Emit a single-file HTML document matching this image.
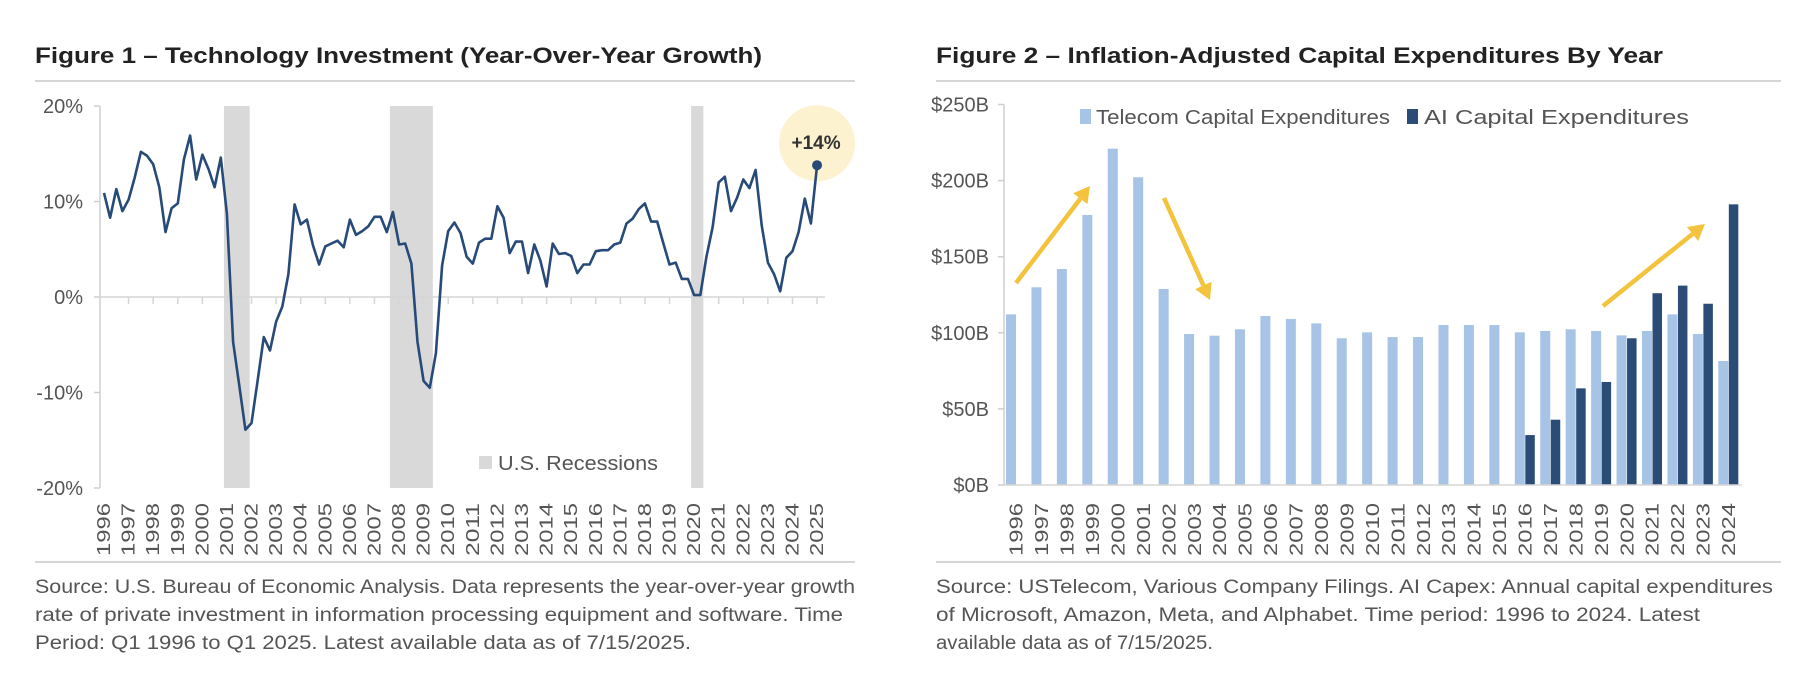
<!DOCTYPE html>
<html><head><meta charset="utf-8">
<style>
html,body{margin:0;padding:0;background:#fff;}
svg{display:block;font-family:"Liberation Sans",Arial,sans-serif;}
</style></head>
<body>
<svg id="root" width="1798" height="696" viewBox="0 0 1798 696" xmlns="http://www.w3.org/2000/svg">
  <g>
    <text x="35" y="63" font-size="22" font-weight="bold" fill="#222" textLength="727" lengthAdjust="spacingAndGlyphs">Figure 1 – Technology Investment (Year-Over-Year Growth)</text>
    <line x1="35" y1="81" x2="855" y2="81" stroke="#c8c8c8" stroke-width="1.5"/>
    <g id="c1"></g>
    <line x1="35" y1="562" x2="855" y2="562" stroke="#c8c8c8" stroke-width="1.5"/>
    <text font-size="19" fill="#555" lengthAdjust="spacingAndGlyphs">
      <tspan x="35" y="593" textLength="820" lengthAdjust="spacingAndGlyphs">Source: U.S. Bureau of Economic Analysis. Data represents the year-over-year growth</tspan>
      <tspan x="35" y="621" textLength="808" lengthAdjust="spacingAndGlyphs">rate of private investment in information processing equipment and software. Time</tspan>
      <tspan x="35" y="649" textLength="656" lengthAdjust="spacingAndGlyphs">Period: Q1 1996 to Q1 2025. Latest available data as of 7/15/2025.</tspan>
    </text>
  </g>
  <g>
    <text x="936" y="63" font-size="22" font-weight="bold" fill="#222" textLength="727" lengthAdjust="spacingAndGlyphs">Figure 2 – Inflation-Adjusted Capital Expenditures By Year</text>
    <line x1="936" y1="81" x2="1781" y2="81" stroke="#c8c8c8" stroke-width="1.5"/>
    <g id="c2"></g>
    <line x1="936" y1="562" x2="1781" y2="562" stroke="#c8c8c8" stroke-width="1.5"/>
    <text font-size="19" fill="#555">
      <tspan x="936" y="593" textLength="837" lengthAdjust="spacingAndGlyphs">Source: USTelecom, Various Company Filings. AI Capex: Annual capital expenditures</tspan>
      <tspan x="936" y="621" textLength="764" lengthAdjust="spacingAndGlyphs">of Microsoft, Amazon, Meta, and Alphabet. Time period: 1996 to 2024. Latest</tspan>
      <tspan x="936" y="649" textLength="277" lengthAdjust="spacingAndGlyphs">available data as of 7/15/2025.</tspan>
    </text>
  </g>
</svg>
<script>
// ---------- Figure 1 data ----------
const growthValues = [10.9,8.3,11.3,9.0,10.2,12.5,15.2,14.8,13.9,11.5,6.8,9.3,9.8,14.4,16.9,12.3,14.9,13.4,11.5,14.6,
 8.7,-4.7,-9.2,-13.9,-13.2,-8.7,-4.2,-5.6,-2.6,-1.0,2.4,9.7,7.6,8.1,5.4,3.4,5.3,5.6,5.9,5.2,
 8.1,6.5,6.9,7.4,8.4,8.4,6.8,8.9,5.5,5.6,3.5,-4.7,-8.8,-9.5,-5.9,3.3,6.9,7.8,6.7,4.2,
 3.5,5.7,6.1,6.1,9.5,8.3,4.6,5.8,5.8,2.5,5.5,3.8,1.1,5.6,4.5,4.6,4.3,2.5,3.4,3.4,
 4.8,4.9,4.9,5.5,5.7,7.7,8.2,9.2,9.8,7.9,7.9,5.6,3.4,3.6,1.9,1.9,0.2,0.2,4.2,7.3,
 12.0,12.6,9.0,10.4,12.3,11.4,13.3,7.5,3.6,2.4,0.6,4.1,4.8,6.8,10.3,7.7,13.8];
const growthYears = [];
for (let y = 1996; y <= 2025; y++) growthYears.push(String(y));
const growthTicks = [20,10,0,-10,-20];
const recessionStarts = [20,47,96];
const recessionEnds = [23.7,53.5,97.5];
const calloutLabel = "+14%";

// ---------- Figure 2 data ----------
const capexYears = [];
for (let y = 1996; y <= 2024; y++) capexYears.push(String(y));
const telecomCapex = [112.1,129.9,141.9,177.4,221,202.2,128.8,99.2,98.1,102.3,111,109.1,106.2,96.4,100.3,97.2,97.2,105.1,105.1,105.1,100.3,101.2,102.3,101.2,98.3,101.2,112.1,99.2,81.5];
const aiCapex = [null,null,null,null,null,null,null,null,null,null,null,null,null,null,null,null,null,null,null,null,32.8,42.9,63.5,67.7,96.4,126,131,119.1,184.4];
const capexTicks = [0,50,100,150,200,250];

const NS = "http://www.w3.org/2000/svg";
function mk(tag, attrs, parent, txt){
  const e = document.createElementNS(NS, tag);
  for (const k in attrs) e.setAttribute(k, attrs[k]);
  if (txt !== undefined) e.textContent = txt;
  parent.appendChild(e);
  return e;
}

// ---- Chart 1 ----
(function(){
  const g = document.getElementById('c1');
  const x0 = 104, dx = 6.147;
  const xq = i => x0 + i*dx;
  const y = v => 297 - v*9.55;
  const left = 100, right = 825;
  recessionStarts.forEach((s,k)=>{
    const r = mk('rect',{x:xq(s)-3,y:y(20),width:xq(recessionEnds[k])-xq(s)+3,height:y(-20)-y(20),fill:'#d9d9d9'},g);
    
    
  });
  const ax = mk('line',{x1:left,y1:y(20),x2:left,y2:y(-20),stroke:'#cfcfcf','stroke-width':1.5},g);
  
  
  growthTicks.forEach(t=>{
    const tk = mk('line',{x1:left-6,y1:y(t),x2:left,y2:y(t),stroke:'#cfcfcf','stroke-width':1.5},g);
    
    
    const lb = mk('text',{x:83,y:y(t)+7,'font-size':20,fill:'#555','text-anchor':'end'},g,t+'%');
    
    
  });
  const zl = mk('line',{x1:left,y1:y(0),x2:right,y2:y(0),stroke:'#d6d6d6','stroke-width':1.5},g);
  
  
  growthYears.forEach((yr,k)=>{
    const xx = xq(k*4);
    if (k>0){
      const tk = mk('line',{x1:xx,y1:y(0),x2:xx,y2:y(0)+7,stroke:'#d6d6d6','stroke-width':1.5},g);
      
      
    }
    const lb = mk('text',{x:0,y:0,'font-size':18,fill:'#555','text-anchor':'end',textLength:53,lengthAdjust:'spacingAndGlyphs',transform:`translate(${xx+6},503) rotate(-90)`},g,yr);
    
    
  });
  const lg = mk('rect',{x:479,y:456,width:13,height:13,fill:'#d9d9d9'},g);
  
  
  const lt = mk('text',{x:498,y:470,'font-size':20,fill:'#555',textLength:160,lengthAdjust:'spacingAndGlyphs'},g,'U.S. Recessions');
  
  
  const last = growthValues.length-1;
  const cx = xq(last), cy = y(growthValues[last]);
  const bub = mk('circle',{cx:cx,cy:cy-22,r:38,fill:'#fdf2cf'},g);
  
  
  const pts = growthValues.map((v,i)=>xq(i).toFixed(1)+','+y(v).toFixed(1)).join(' ');
  const pl = mk('polyline',{points:pts,fill:'none',stroke:'#274a78','stroke-width':2.6,'stroke-linejoin':'round'},g);
  
  
  const dot = mk('circle',{cx:cx,cy:cy,r:5,fill:'#274a78'},g);
  
  
  const ct = mk('text',{x:cx-1,y:cy-16,'font-size':19,'font-weight':'bold',fill:'#333','text-anchor':'middle'},g,calloutLabel);
  
  
})();

// ---- Chart 2 ----
(function(){
  const g = document.getElementById('c2');
  const x0 = 1004, cw = 25.44;
  const y = v => 485 - v*1.522;
  const ax = mk('line',{x1:x0,y1:y(250),x2:x0,y2:y(0),stroke:'#cfcfcf','stroke-width':1.5},g);
  
  
  capexTicks.forEach(t=>{
    const tk = mk('line',{x1:x0-6,y1:y(t),x2:x0,y2:y(t),stroke:'#cfcfcf','stroke-width':1.5},g);
    
    
    const lb = mk('text',{x:989,y:y(t)+7,'font-size':20,fill:'#555','text-anchor':'end'},g,'$'+t+'B');
    
    
  });
  capexYears.forEach((yr,k)=>{
    const cs = x0 + k*cw;
    const tv = telecomCapex[k];
    const tb = mk('rect',{x:cs+2,y:y(tv),width:10,height:y(0)-y(tv),fill:'#a7c3e5'},g);
    
    
    const av = aiCapex[k];
    if (av !== null){
      const ab = mk('rect',{x:cs+12.5,y:y(av),width:9.5,height:y(0)-y(av),fill:'#2b4c77'},g);
      
      
    }
    const lb = mk('text',{x:0,y:0,'font-size':18,fill:'#555','text-anchor':'end',textLength:53,lengthAdjust:'spacingAndGlyphs',transform:`translate(${cs+cw/2+6},503) rotate(-90)`},g,yr);
    
    
  });
  const bl = mk('line',{x1:x0,y1:y(0),x2:x0+29*cw,y2:y(0),stroke:'#d6d6d6','stroke-width':1.5},g);
  
  
  const s1 = mk('rect',{x:1080,y:109,width:11,height:15,fill:'#a7c3e5'},g);
  
  
  const t1 = mk('text',{x:1096,y:124,'font-size':20,fill:'#555',textLength:294,lengthAdjust:'spacingAndGlyphs'},g,'Telecom Capital Expenditures');
  
  
  const s2 = mk('rect',{x:1407,y:109,width:11,height:15,fill:'#2b4c77'},g);
  
  
  const t2 = mk('text',{x:1424,y:124,'font-size':20,fill:'#555',textLength:265,lengthAdjust:'spacingAndGlyphs'},g,'AI Capital Expenditures');
  
  
  const arrows = [[1016,283,1090,186],[1164,198,1210,300],[1603,306,1705,224]];
  arrows.forEach((a,k)=>{
    const [x1,y1,x2,y2] = a;
    const ang = Math.atan2(y2-y1,x2-x1);
    const L = 16, W = 9;
    const bx = x2 - L*Math.cos(ang), by = y2 - L*Math.sin(ang);
    const ln = mk('line',{x1:x1,y1:y1,x2:bx,y2:by,stroke:'#f4c33d','stroke-width':4.5},g);
    
    
    const px = -Math.sin(ang), py = Math.cos(ang);
    const hd = mk('polygon',{points:`${x2},${y2} ${bx+px*W},${by+py*W} ${bx-px*W},${by-py*W}`,fill:'#f4c33d'},g);
    
    
  });
})();
</script>
</body></html>
